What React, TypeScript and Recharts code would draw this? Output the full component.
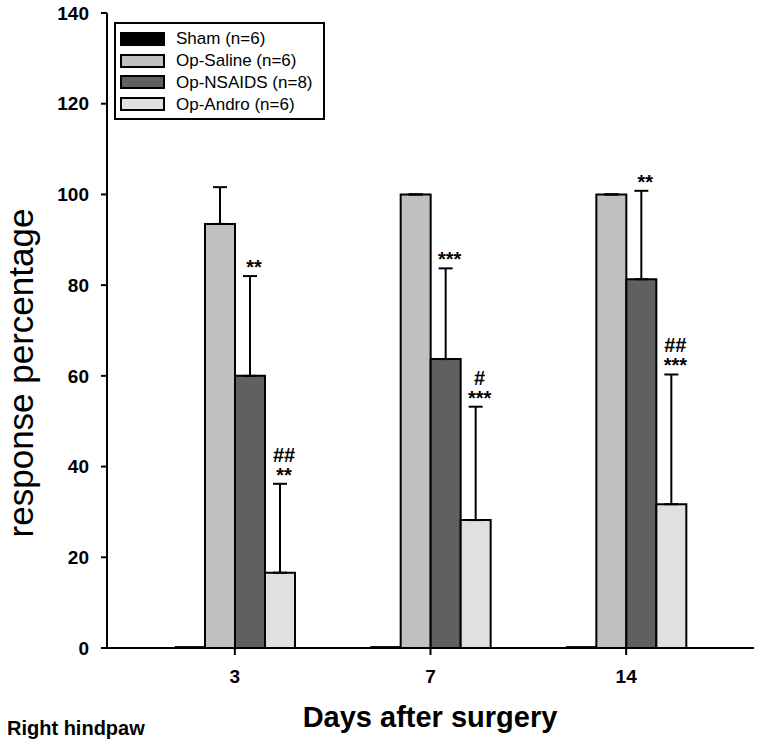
import { BarChart, Bar, XAxis, YAxis, ErrorBar, LabelList, Legend } from "recharts"

const FONT = "'Liberation Sans', Arial, Helvetica, sans-serif"

const DAYS = ["3", "7", "14"]
const GROUPS = ["Sham (n=6)", "Op-Saline (n=6)", "Op-NSAIDS (n=8)", "Op-Andro (n=6)"]
const SHAM = [0.3, 0.3, 0.3]
const SALINE = [93.5, 100, 100]
const SALINE_ERR = [8.1, 0, 0]
const NSAIDS = [60, 63.7, 81.3]
const NSAIDS_ERR = [22, 20, 19.5]
const ANDRO = [16.6, 28.2, 31.7]
const ANDRO_ERR = [19.6, 25, 28.6]
const NSAIDS_SIG = ["**", "***", "**"]
const ANDRO_SIG = ["##\n**", "#\n***", "##\n***"]
const Y_TICKS = [0, 20, 40, 60, 80, 100, 120, 140]

const data = DAYS.map((day, i) => ({
  day,
  sham: SHAM[i],
  saline: SALINE[i],
  salineErr: [0, SALINE_ERR[i]],
  nsaids: NSAIDS[i],
  nsaidsErr: [0, NSAIDS_ERR[i]],
  nsaidsSig: NSAIDS_SIG[i],
  andro: ANDRO[i],
  androErr: [0, ANDRO_ERR[i]],
  androSig: ANDRO_SIG[i],
}))

// stars / hashes drawn just above the top of each error bar
function sigLabel(values: number[], errs: number[]) {
  return (props: any) => {
    const vb = props.viewBox ?? props
    const { x, y, width, height } = vb
    const i = props.index
    const text = String(props.value ?? "")
    if (!text || i == null) return null
    const pxPerUnit = height / values[i]
    const errTop = y - errs[i] * pxPerUnit
    const cx = x + width / 2 + 4
    const lines = text.split("\n")
    return (
      <g>
        {lines.map((line, k) => (
          <text
            key={k}
            x={cx}
            y={errTop - 2 - (lines.length - 1 - k) * 20}
            textAnchor="middle"
            fontSize={20}
            fontWeight="bold"
            fontFamily={FONT}
            fill="#000"
          >
            {line}
          </text>
        ))}
      </g>
    )
  }
}

function LegendBox({ payload }: any) {
  const items = [...(payload ?? [])].sort(
    (a: any, b: any) => GROUPS.indexOf(a.value) - GROUPS.indexOf(b.value)
  )
  return (
    <div
      style={{
        border: "2px solid #000",
        width: 211,
        height: 98,
        boxSizing: "border-box",
        padding: "4px 0 0 4px",
        background: "#fff",
      }}
    >
      {items.map((p: any) => (
        <div key={p.value} style={{ display: "flex", alignItems: "center", height: 21.8 }}>
          <span
            style={{
              width: 45,
              height: 14,
              background: p.color,
              border: "2px solid #000",
              boxSizing: "border-box",
              marginRight: 11,
              display: "inline-block",
            }}
          />
          <span style={{ fontSize: 17, fontFamily: FONT, color: "#000", lineHeight: 1 }}>{p.value}</span>
        </div>
      ))}
    </div>
  )
}

const tickStyle = { fontSize: 19, fontWeight: "bold", fontFamily: FONT, fill: "#000" }
const line = { stroke: "#000", strokeWidth: 2 }

export default function App() {
  return (
    <div style={{ position: "relative", width: 760, height: 745, background: "#fff" }}>
      <style>{"body{margin:0}"}</style>
      <BarChart
        width={760}
        height={745}
        data={data}
        margin={{ top: 13, right: 6, left: 0, bottom: 0 }}
        barCategoryGap={38}
        barGap={0}
      >
        <XAxis
          dataKey="day"
          height={97}
          padding={{ left: 30, right: 30 }}
          tick={tickStyle}
          tickSize={7}
          tickMargin={15}
          axisLine={line}
          tickLine={line}
        />
        <XAxis
          xAxisId="top"
          dataKey="day"
          orientation="top"
          height={0}
          tick={false}
          tickLine={false}
          axisLine={line}
        />
        <YAxis
          width={107}
          domain={[0, 140]}
          ticks={Y_TICKS}
          interval={0}
          tick={tickStyle}
          tickSize={6}
          tickMargin={12}
          axisLine={line}
          tickLine={line}
        />
        <YAxis
          yAxisId="right"
          orientation="right"
          width={0}
          domain={[0, 140]}
          tick={false}
          tickLine={false}
          axisLine={line}
        />
        <Legend
          layout="vertical"
          align="center"
          verticalAlign="middle"
          content={<LegendBox />}
          wrapperStyle={{ top: 22, left: 114, width: 211, height: 98 }}
        />
        <Bar dataKey="sham" name={GROUPS[0]} fill="#000000" stroke="#000" strokeWidth={1} isAnimationActive={false} />
        <Bar dataKey="saline" name={GROUPS[1]} fill="#c0c0c0" stroke="#000" strokeWidth={2} isAnimationActive={false}>
          <ErrorBar dataKey="salineErr" direction="y" width={7} stroke="#000" strokeWidth={2} />
        </Bar>
        <Bar dataKey="nsaids" name={GROUPS[2]} fill="#606060" stroke="#000" strokeWidth={2} isAnimationActive={false}>
          <ErrorBar dataKey="nsaidsErr" direction="y" width={7} stroke="#000" strokeWidth={2} />
          <LabelList dataKey="nsaidsSig" content={sigLabel(NSAIDS, NSAIDS_ERR)} />
        </Bar>
        <Bar dataKey="andro" name={GROUPS[3]} fill="#e0e0e0" stroke="#000" strokeWidth={2} isAnimationActive={false}>
          <ErrorBar dataKey="androErr" direction="y" width={7} stroke="#000" strokeWidth={2} />
          <LabelList dataKey="androSig" content={sigLabel(ANDRO, ANDRO_ERR)} />
        </Bar>
      </BarChart>
      <svg
        width={760}
        height={745}
        style={{ position: "absolute", left: 0, top: 0, pointerEvents: "none" }}
      >
        <text
          x={33}
          y={373}
          transform="rotate(-90 33 373)"
          textAnchor="middle"
          fontSize={35}
          fontFamily={FONT}
          fill="#000"
        >
          response percentage
        </text>
        <text x={430} y={727} textAnchor="middle" fontSize={29} fontWeight="bold" fontFamily={FONT} fill="#000">
          Days after surgery
        </text>
        <text x={7} y={735} fontSize={20} fontWeight="bold" fontFamily={FONT} fill="#000">
          Right hindpaw
        </text>
      </svg>
    </div>
  )
}
